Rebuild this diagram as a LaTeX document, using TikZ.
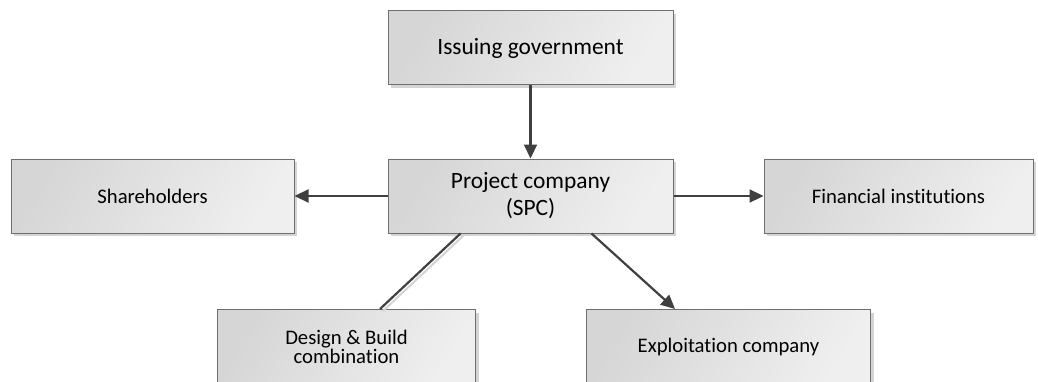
\documentclass[tikz,border=0pt]{standalone}
\usepackage{fontspec}
\setmainfont[Ligatures=NoCommon]{Carlito}
\usetikzlibrary{arrows.meta,shadows,calc}
\definecolor{boxline}{HTML}{6E6E6E}
\definecolor{arrowcol}{HTML}{404040}
\definecolor{fillA}{HTML}{D6D6D6}
\definecolor{fillB}{HTML}{EFEFEF}
\definecolor{shadowcol}{HTML}{D4D4D4}
\begin{document}
\begin{tikzpicture}[x=1pt,y=1pt,
  boxstyle/.style={draw=boxline, line width=1pt, rectangle, align=center,
    inner sep=0pt, left color=fillA, right color=fillB, shading angle=60,
    drop shadow={shadow xshift=3pt, shadow yshift=-3pt, fill=shadowcol, opacity=1}},
  bigtext/.style={font=\fontsize{23.4}{27}\selectfont},
  smalltext/.style={font=\fontsize{20.7}{17}\selectfont},
  conn/.style={draw=arrowcol, line width=2.2pt},
  arr/.style={conn, -{Triangle[length=14pt,width=13pt]}}]
\useasboundingbox (0,0) rectangle (1038,381);
\node[boxstyle,bigtext,minimum width=285pt,minimum height=74pt] (gov) at (530.5,333) {Issuing government};
\node[boxstyle,bigtext,minimum width=285pt,minimum height=74pt] (spc) at (530.5,185) {Project company\\(SPC)};
\node[boxstyle,smalltext,minimum width=283pt,minimum height=74pt] (sh) at (152.5,185) {Shareholders};
\node[boxstyle,smalltext,minimum width=269pt,minimum height=74pt] (fin) at (898.5,185) {Financial institutions};
\node[boxstyle,smalltext,minimum width=258pt,minimum height=74pt,anchor=north west] (db) at (217,72) {Design \& Build\\combination};
\node[boxstyle,smalltext,minimum width=284pt,minimum height=74pt,anchor=north west] (exp) at (586,72) {Exploitation company};
\coordinate (dbA) at ($(spc.south west)+(73,0)$);
\coordinate (dbB) at ($(db.north west)+(163,0)$);
\coordinate (exA) at ($(spc.south west)+(204,0)$);
\coordinate (exB) at ($(exp.north west)+(89,0)$);
\draw[arr] (gov.south) -- (spc.north);
\draw[arr] (spc.west) -- (sh.east);
\draw[arr] (spc.east) -- (fin.west);
\draw[draw=shadowcol, line width=2pt] ($(dbA)+(3,-2)$) -- ($(dbB)+(3,-2)$);
\draw[conn] (dbA) -- (dbB);
\draw[arr] (exA) -- (exB);
\end{tikzpicture}
\end{document}
